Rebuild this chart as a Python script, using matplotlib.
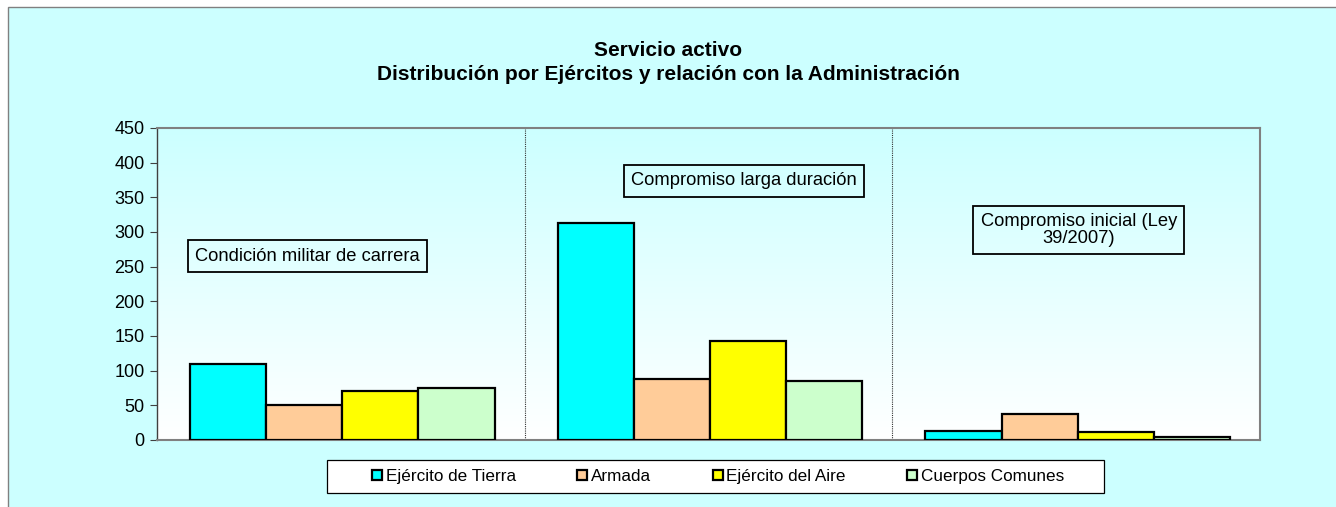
import numpy as np
import matplotlib
matplotlib.use("Agg")
import matplotlib.pyplot as plt
from matplotlib.patches import Rectangle

plt.rcParams['font.family'] = ['Liberation Sans', 'DejaVu Sans']

categories = ['Condición militar de carrera', 'Compromiso larga duración',
              'Compromiso inicial (Ley\n39/2007)']
series_names = ['Ejército de Tierra', 'Armada', 'Ejército del Aire', 'Cuerpos Comunes']
tierra = [110, 313, 13]
armada = [50, 88, 37]
aire = [70, 143, 11]
comunes = [75, 85, 5]
colors = ['#00FFFF', '#FFCC99', '#FFFF00', '#CCFFCC']
y_ticks = [0, 50, 100, 150, 200, 250, 300, 350, 400, 450]

W, H = 1336, 507
fig = plt.figure(figsize=(W / 100, H / 100), dpi=100)
fig.patch.set_facecolor('white')

# chart area background with thin gray frame
fig.patches.append(Rectangle((8 / W, -0.01), 1.0, 1 - 7 / H + 0.01,
                             transform=fig.transFigure, facecolor='#CCFFFF',
                             edgecolor='#808080', linewidth=1.0, zorder=-5))
# legend box
fig.patches.append(Rectangle((327 / W, 1 - 493 / H), (1104 - 327) / W, 33 / H,
                             transform=fig.transFigure, facecolor='white',
                             edgecolor='black', linewidth=0.9, zorder=-4))

ax = fig.add_axes([157 / W, 1 - 440 / H, (1260 - 157) / W, (440 - 128) / H])
ax.set_zorder(1)
ax.set_xlim(-0.5, 2.5)
ax.set_ylim(0, 450)

# vertical gradient in plot area: cyan at top, white at bottom
grad = np.linspace(0, 1, 256).reshape(-1, 1)
top = np.array([0xCC, 0xFF, 0xFF]) / 255
bottom = np.array([1.0, 1.0, 1.0])
img = bottom + (top - bottom) * grad
ax.imshow(img[:, None, :].repeat(2, axis=1), extent=[-0.5, 2.5, 0, 450],
          origin='lower', aspect='auto', zorder=0)

x = np.arange(len(categories))
width = 0.207
all_series = [tierra, armada, aire, comunes]
for i, (vals, name, c) in enumerate(zip(all_series, series_names, colors)):
    ax.bar(x + (i - 1.5) * width + 0.004, vals, width, color=c, edgecolor='black',
           linewidth=1.6, label=name, zorder=3)

for b in [0.5, 1.5]:
    ax.axvline(b, color='#333333', linestyle=(0, (1, 1)), linewidth=0.8, zorder=2)

# category labels as boxed notes
note_pos = [(-0.09, 265), (1.096, 374), (2.007, 303)]
for label, (nx, ny) in zip(categories, note_pos):
    ax.text(nx, ny, label, ha='center', va='center', fontsize=13.2,
            multialignment='center', zorder=4, linespacing=1.0,
            bbox=dict(boxstyle='square,pad=0.4', facecolor='none',
                      edgecolor='black', linewidth=1.3))

ax.set_xticks([])
ax.set_yticks(y_ticks)
ax.tick_params(axis='y', labelsize=13, length=5, color='#404040', pad=4)
for s in ['top', 'right', 'bottom']:
    ax.spines[s].set_color('#808080')
    ax.spines[s].set_linewidth(1.5)
ax.spines['left'].set_color('#404040')
ax.spines['left'].set_linewidth(1.0)

fig.text(0.5, 1 - 50 / H, 'Servicio activo', ha='center', va='center',
         fontsize=15, fontweight='bold')
fig.text(0.5, 1 - 75 / H, 'Distribución por Ejércitos y relación con la Administración',
         ha='center', va='center', fontsize=15, fontweight='bold')

leg = fig.legend(loc='center', bbox_to_anchor=(718 / W, 1 - 476.5 / H), ncol=4,
                 fontsize=12.3, frameon=False, handlelength=0.6,
                 handleheight=0.6, handletextpad=0.2, columnspacing=3.6)
for h in leg.legend_handles:
    h.set_linewidth(1.6)

fig.savefig('out.png', dpi=100, facecolor=fig.get_facecolor())
